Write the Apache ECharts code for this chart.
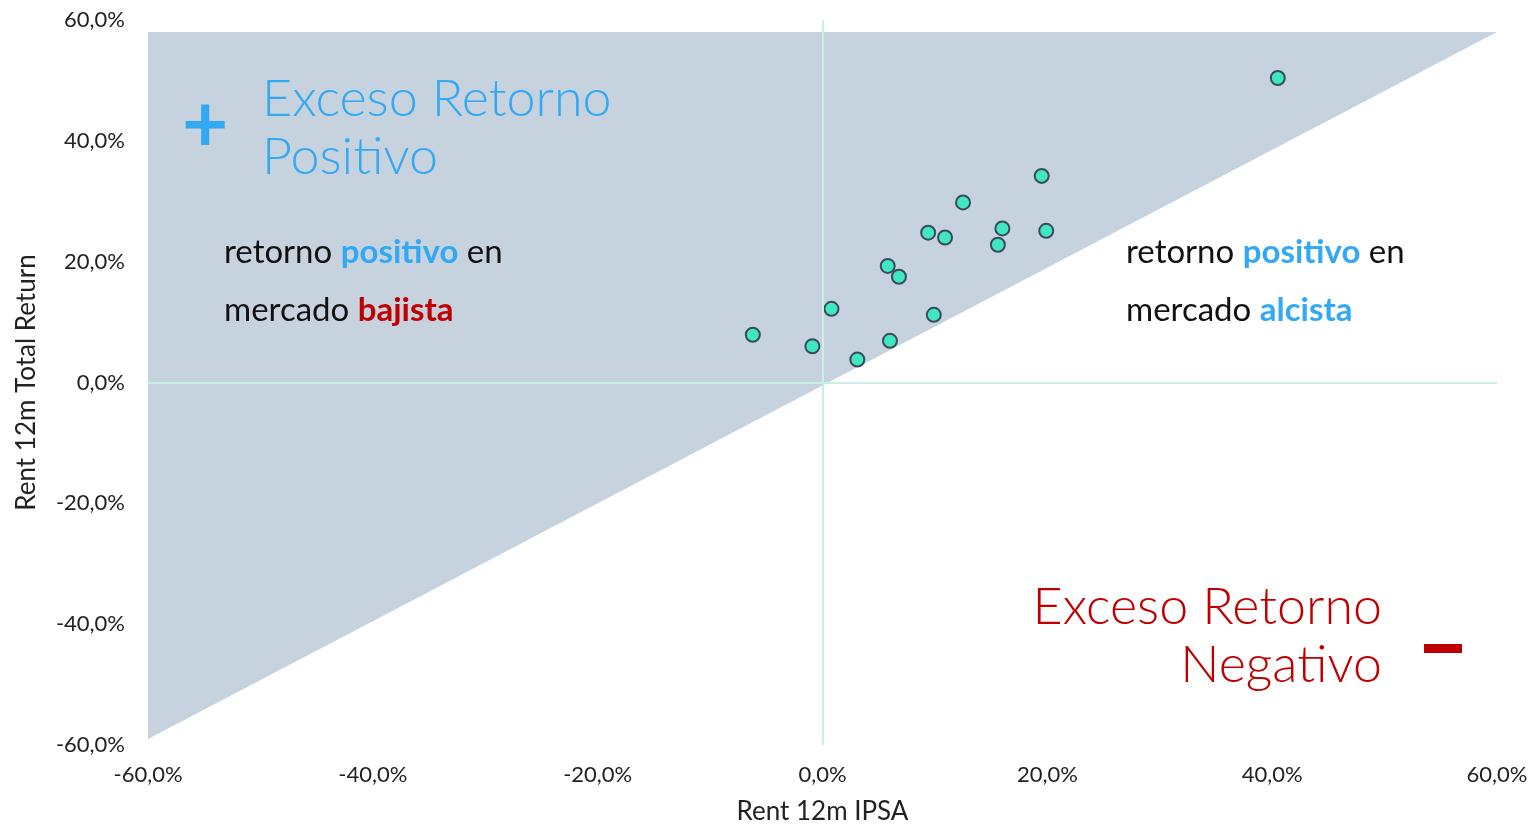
<!DOCTYPE html>
<html>
<head>
<meta charset="utf-8">
<script src="https://cdn.jsdelivr.net/npm/echarts@6/dist/echarts.min.js"></script>
<style>
  html, body { margin: 0; padding: 0; background: #fff; }
  #chart { width: 1532px; height: 825px; }
</style>
</head>
<body>
<div id="chart"></div>
<script>
// Rent 12m IPSA (x) vs Rent 12m Total Return (y), in %
const ipsa = [40.5, 19.5, 12.5, 16.0, 19.9, 9.4, 10.9, 15.6, 5.8, 6.8, 0.8, 9.9, -6.2, -0.9, 6.0, 3.1]
const totalReturn = [50.4, 34.2, 29.8, 25.5, 25.1, 24.8, 24.0, 22.8, 19.3, 17.5, 12.2, 11.2, 7.9, 6.0, 6.9, 3.8]
// shaded "exceso retorno positivo" zone (above the diagonal)
const zoneX = [-60, -60, 60]
const zoneY = [-59, 58, 58]
const axisTicks = [-60, -40, -20, 0, 20, 40, 60]

const font = 'Lato, "Open Sans", sans-serif'
const blue = '#33a9f4'
const red = '#c00000'
const fmt = v => v.toFixed(1).replace('.', ',') + '%'

const chart = echarts.init(document.getElementById('chart'))

const points = ipsa.map((x, i) => [x, totalReturn[i]])
const zone = zoneX.map((x, i) => [x, zoneY[i]])

const axisCommon = {
  type: 'value',
  min: axisTicks[0],
  max: axisTicks[axisTicks.length - 1],
  interval: 20,
  axisLine: { show: false, onZero: false },
  axisTick: { show: false },
  splitLine: { show: false },
  nameTextStyle: { fontFamily: font, fontSize: 26, color: '#222' },
  axisLabel: { formatter: fmt, fontFamily: font, fontSize: 22, color: '#222' }
}

chart.setOption({
  animation: false,
  grid: { left: 148, right: 35, top: 20, bottom: 80, outerBoundsMode: 'none', containLabel: false },
  xAxis: {
    ...axisCommon,
    name: 'Rent 12m IPSA',
    nameLocation: 'middle',
    nameGap: 54,
    axisLabel: { ...axisCommon.axisLabel, margin: 19 }
  },
  yAxis: {
    ...axisCommon,
    name: 'Rent 12m Total Return',
    nameLocation: 'middle',
    nameGap: 108,
    axisLabel: { ...axisCommon.axisLabel, margin: 23 }
  },
  series: [
    {
      type: 'custom',
      silent: true,
      z: 1,
      data: [0],
      renderItem: (params, api) => ({
        type: 'polygon',
        shape: { points: zone.map(p => api.coord(p)) },
        style: { fill: '#c6d2de' }
      })
    },
    {
      type: 'scatter',
      z: 3,
      data: points,
      symbolSize: 14,
      itemStyle: { color: '#40e8c0', borderColor: '#3b4a5c', borderWidth: 2, opacity: 1 },
      markLine: {
        silent: true,
        symbol: 'none',
        label: { show: false },
        lineStyle: { color: '#c9f0e6', width: 2, type: 'solid' },
        data: [{ xAxis: 0 }, { yAxis: 0 }]
      }
    }
  ],
  graphic: [
    {
      type: 'text', left: 182, top: 86, z: 10,
      style: { text: '+', fill: blue, font: 'bold 80px ' + font }
    },
    {
      type: 'text', left: 262, top: 70, z: 10,
      style: { text: 'Exceso Retorno\nPositivo', fill: blue, font: '300 52px ' + font, lineHeight: 58 }
    },
    {
      type: 'text', left: 224, top: 223, z: 10,
      style: {
        text: 'retorno {b|positivo} en\nmercado {r|bajista}',
        fill: '#111', font: '33px ' + font, lineHeight: 58,
        rich: {
          b: { fill: blue, font: 'bold 33px ' + font, lineHeight: 58 },
          r: { fill: red, font: 'bold 33px ' + font, lineHeight: 58 }
        }
      }
    },
    {
      type: 'text', left: 1126, top: 223, z: 10,
      style: {
        text: 'retorno {b|positivo} en\nmercado {b|alcista}',
        fill: '#111', font: '33px ' + font, lineHeight: 58,
        rich: {
          b: { fill: blue, font: 'bold 33px ' + font, lineHeight: 58 }
        }
      }
    },
    {
      type: 'text', right: 150, top: 581, z: 10,
      style: { text: 'Exceso Retorno', fill: red, font: '300 52px ' + font }
    },
    {
      type: 'text', right: 150, top: 639, z: 10,
      style: { text: 'Negativo', fill: red, font: '300 52px ' + font }
    },
    {
      type: 'rect', left: 1424, top: 644, z: 10,
      shape: { width: 38, height: 9 },
      style: { fill: red }
    }
  ]
})
</script>
</body>
</html>
